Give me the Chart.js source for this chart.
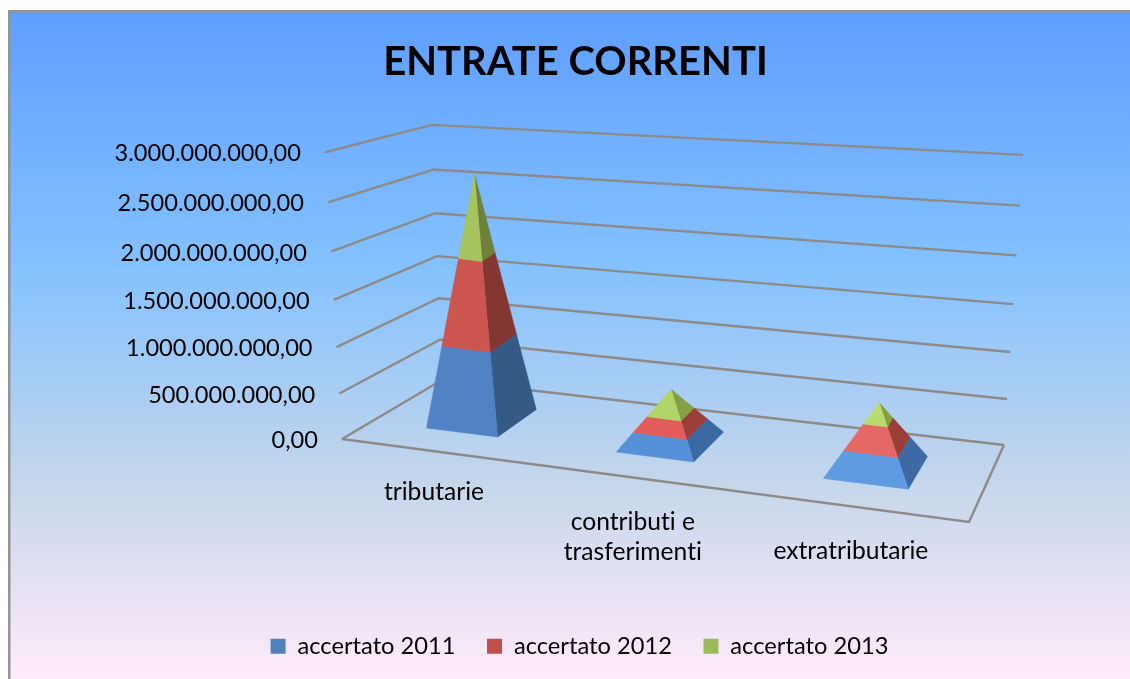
<!DOCTYPE html>
<html>
<head>
<meta charset="utf-8">
<title>ENTRATE CORRENTI</title>
<script src="https://cdn.jsdelivr.net/npm/chart.js@4"></script>
<style>
  html, body { margin: 0; padding: 0; background: #fff; }
  canvas { display: block; }
</style>
</head>
<body>
<canvas id="chart" width="1130" height="679"></canvas>
<script>
const categories = ["tributarie", ["contributi e", "trasferimenti"], "extratributarie"];
const accertato2011 = [860000000, 178000000, 248000000];
const accertato2012 = [920000000, 146000000, 240000000];
const accertato2013 = [890000000, 250000000, 192000000];
const seriesNames = ["accertato 2011", "accertato 2012", "accertato 2013"];
const legendColors = ["#4F81BD", "#C0504D", "#9BBB59"];

// face colours, [series][category]
const frontFaces = [["#5082c4", "#5590d8", "#5f9be0"], ["#cd5550", "#e25d59", "#e56864"], ["#a5c45e", "#b0d468", "#b8dc6e"]];
const sideFaces = [["#355a86", "#3b6aa2", "#3d6aa4"], ["#833632", "#9b3e3a", "#9c3e38"], ["#6f8038", "#84a044", "#84a03e"]];

const FONT = "Lato";
const GRID = "#8e8a88";

// floor corners of the 3d box and where its verticals converge
const FL = [342, 439], FR = [969, 522], BR = [1004, 445], BL = [442, 380];
const VP = [656, 5740];
const wallScale = { fl: 0.0541, bl: 0.0476, br: 0.0548, fr: 0.061 };
const depthPct = 0.44;
const labelDrop = [28, 32, 32];

const den = (FR[0]-BR[0])*(BL[1]-BR[1]) - (BL[0]-BR[0])*(FR[1]-BR[1]);
const sx = FL[0]-FR[0]+BR[0]-BL[0], sy = FL[1]-FR[1]+BR[1]-BL[1];
const hg = (sx*(BL[1]-BR[1]) - (BL[0]-BR[0])*sy)/den;
const hh = ((FR[0]-BR[0])*sy - sx*(FR[1]-BR[1]))/den;

function floorPoint(u, d) {
  const w = hg*u + hh*d + 1;
  return [
    ((FR[0]-FL[0]+hg*FR[0])*u + (BL[0]-FL[0]+hh*BL[0])*d + FL[0])/w,
    ((FR[1]-FL[1]+hg*FR[1])*u + (BL[1]-FL[1]+hh*BL[1])*d + FL[1])/w
  ];
}

// t = 0..1 share of the value axis
function project(u, d, t) {
  const p = floorPoint(u, d);
  const r = (1-u)*(1-d)*wallScale.fl + u*(1-d)*wallScale.fr + u*d*wallScale.br + (1-u)*d*wallScale.bl;
  const g = t/(t + (1-t)*1.06);
  return [p[0] + (p[0]-VP[0])*r*g, p[1] + (p[1]-VP[1])*r*g];
}

function mix(a, b, t) { return [a[0]+(b[0]-a[0])*t, a[1]+(b[1]-a[1])*t]; }

function poly(ctx, pts, fill) {
  ctx.beginPath();
  pts.forEach((p, i) => i ? ctx.lineTo(p[0], p[1]) : ctx.moveTo(p[0], p[1]));
  ctx.closePath();
  ctx.fillStyle = fill;
  ctx.strokeStyle = fill;
  ctx.lineWidth = 0.5;
  ctx.fill();
  ctx.stroke();
}

function line(ctx, pts) {
  ctx.beginPath();
  pts.forEach((p, i) => i ? ctx.lineTo(p[0], p[1]) : ctx.moveTo(p[0], p[1]));
  ctx.strokeStyle = GRID;
  ctx.lineWidth = 2.4;
  ctx.stroke();
}

const box3d = {
  id: "box3d",
  afterLayout(chart) {
    chart.titleBlock.left -= 8;
  },
  beforeDraw(chart) {
    const ctx = chart.ctx;
    ctx.save();
    ctx.fillStyle = "#fff";
    ctx.fillRect(0, 0, chart.width, chart.height);
    const grad = ctx.createLinearGradient(0, 12, 0, 679);
    grad.addColorStop(0, "#5E9EFF");
    grad.addColorStop(0.39, "#85C2FF");
    grad.addColorStop(0.7, "#C4D6EB");
    grad.addColorStop(1, "#FFEBFA");
    ctx.fillStyle = grad;
    ctx.fillRect(10, 12, chart.width-10, chart.height-12);
    ctx.fillStyle = "#949494";
    ctx.fillRect(8, 10, chart.width-8, 2.5);
    ctx.fillRect(8, 10, 2.5, chart.height-10);
    ctx.restore();
  },
  beforeDatasetsDraw(chart) {
    const ctx = chart.ctx, y = chart.scales.y;
    const span = y.bottom - y.top;
    ctx.save();
    ctx.letterSpacing = "0.01px"; // stops Lato joining "ti"
    // walls
    y.ticks.forEach(tick => {
      const t = (y.bottom - y.getPixelForValue(tick.value))/span;
      line(ctx, [project(0, 0, t), project(0, 1, t), project(1, 1, t)]);
      const a = project(0, 0, t);
      ctx.font = "23.6px " + FONT;
      ctx.fillStyle = "#000";
      ctx.textAlign = "right";
      ctx.textBaseline = "middle";
      ctx.fillText(tick.label, a[0]-24, a[1]+1.5);
    });
    // floor edge
    line(ctx, [project(0, 0, 0), project(1, 0, 0), project(1, 1, 0)]);
    // category labels under the front edge
    const x = chart.scales.x;
    x.ticks.forEach((tick, i) => {
      const u = (x.getPixelForTick(i) - x.left)/(x.right - x.left);
      const a = floorPoint(u, 0);
      const rows = [].concat(tick.label);
      ctx.font = "24.6px " + FONT;
      ctx.fillStyle = "#000";
      ctx.textAlign = "center";
      ctx.textBaseline = "top";
      rows.forEach((r, k) => ctx.fillText(r, a[0]-1, a[1]+labelDrop[i]+k*30));
    });
    ctx.restore();
  },
  // the stacked bars only give the geometry, the pyramids are painted from it
  beforeDatasetDraw() { return false; },
  afterDatasetsDraw(chart) {
    const ctx = chart.ctx, y = chart.scales.y, x = chart.scales.x;
    const span = y.bottom - y.top, wide = x.right - x.left;
    ctx.save();
    categories.forEach((c, i) => {
      const metas = chart.data.datasets.map((d, s) => chart.getDatasetMeta(s).data[i]);
      const el = metas[0];
      const u = (el.x - x.left)/wide - 0.002, hw = el.width/2/wide, hd = depthPct/2;
      const h = (y.bottom - metas[metas.length-1].y)/span;
      const apex = project(u, 0.5, h);
      const c0 = floorPoint(u-hw, 0.5-hd), c1 = floorPoint(u+hw, 0.5-hd), c2 = floorPoint(u+hw, 0.5+hd);
      metas.forEach((m, s) => {
        const t0 = (y.bottom - m.base)/span/h, t1 = (y.bottom - m.y)/span/h;
        const quad = (a, b, f) => poly(ctx, [mix(a, apex, t0), mix(b, apex, t0), mix(b, apex, t1), mix(a, apex, t1)], f);
        quad(c1, c2, sideFaces[s][i]);
        quad(c0, c1, frontFaces[s][i]);
      });
    });
    ctx.restore();
  }
};

new Chart(document.getElementById("chart"), {
  type: "bar",
  data: {
    labels: categories,
    datasets: [accertato2011, accertato2012, accertato2013].map((values, s) => ({
      label: seriesNames[s],
      data: values,
      backgroundColor: legendColors[s],
      barPercentage: 0.385,
      categoryPercentage: 1
    }))
  },
  options: {
    responsive: false,
    animation: false,
    devicePixelRatio: 1,
    layout: { padding: { left: 29, right: 0, top: 0, bottom: 11 } },
    scales: {
      x: {
        stacked: true,
        grid: { display: false, drawTicks: false },
        border: { display: false },
        ticks: { display: false },
        afterFit(s) { s.height = 185; }
      },
      y: {
        stacked: true,
        min: 0,
        max: 3000000000,
        grid: { display: false, drawTicks: false },
        border: { display: false },
        ticks: {
          display: false,
          stepSize: 500000000,
          callback: v => v.toLocaleString("it-IT", { minimumFractionDigits: 2, maximumFractionDigits: 2, useGrouping: "always" })
        },
        afterFit(s) { s.width = 313; }
      }
    },
    plugins: {
      title: {
        display: true,
        text: "ENTRATE CORRENTI",
        color: "#000",
        font: { family: FONT, size: 40, weight: "bold", lineHeight: 1.1 },
        padding: { top: 40, bottom: 68 }
      },
      legend: {
        position: "bottom",
        labels: {
          color: "#000",
          font: { family: FONT, size: 23.7 },
          boxWidth: 15,
          boxHeight: 15,
          padding: 31.5
        }
      },
      tooltip: { enabled: false }
    }
  },
  plugins: [box3d]
});
</script>
</body>
</html>
